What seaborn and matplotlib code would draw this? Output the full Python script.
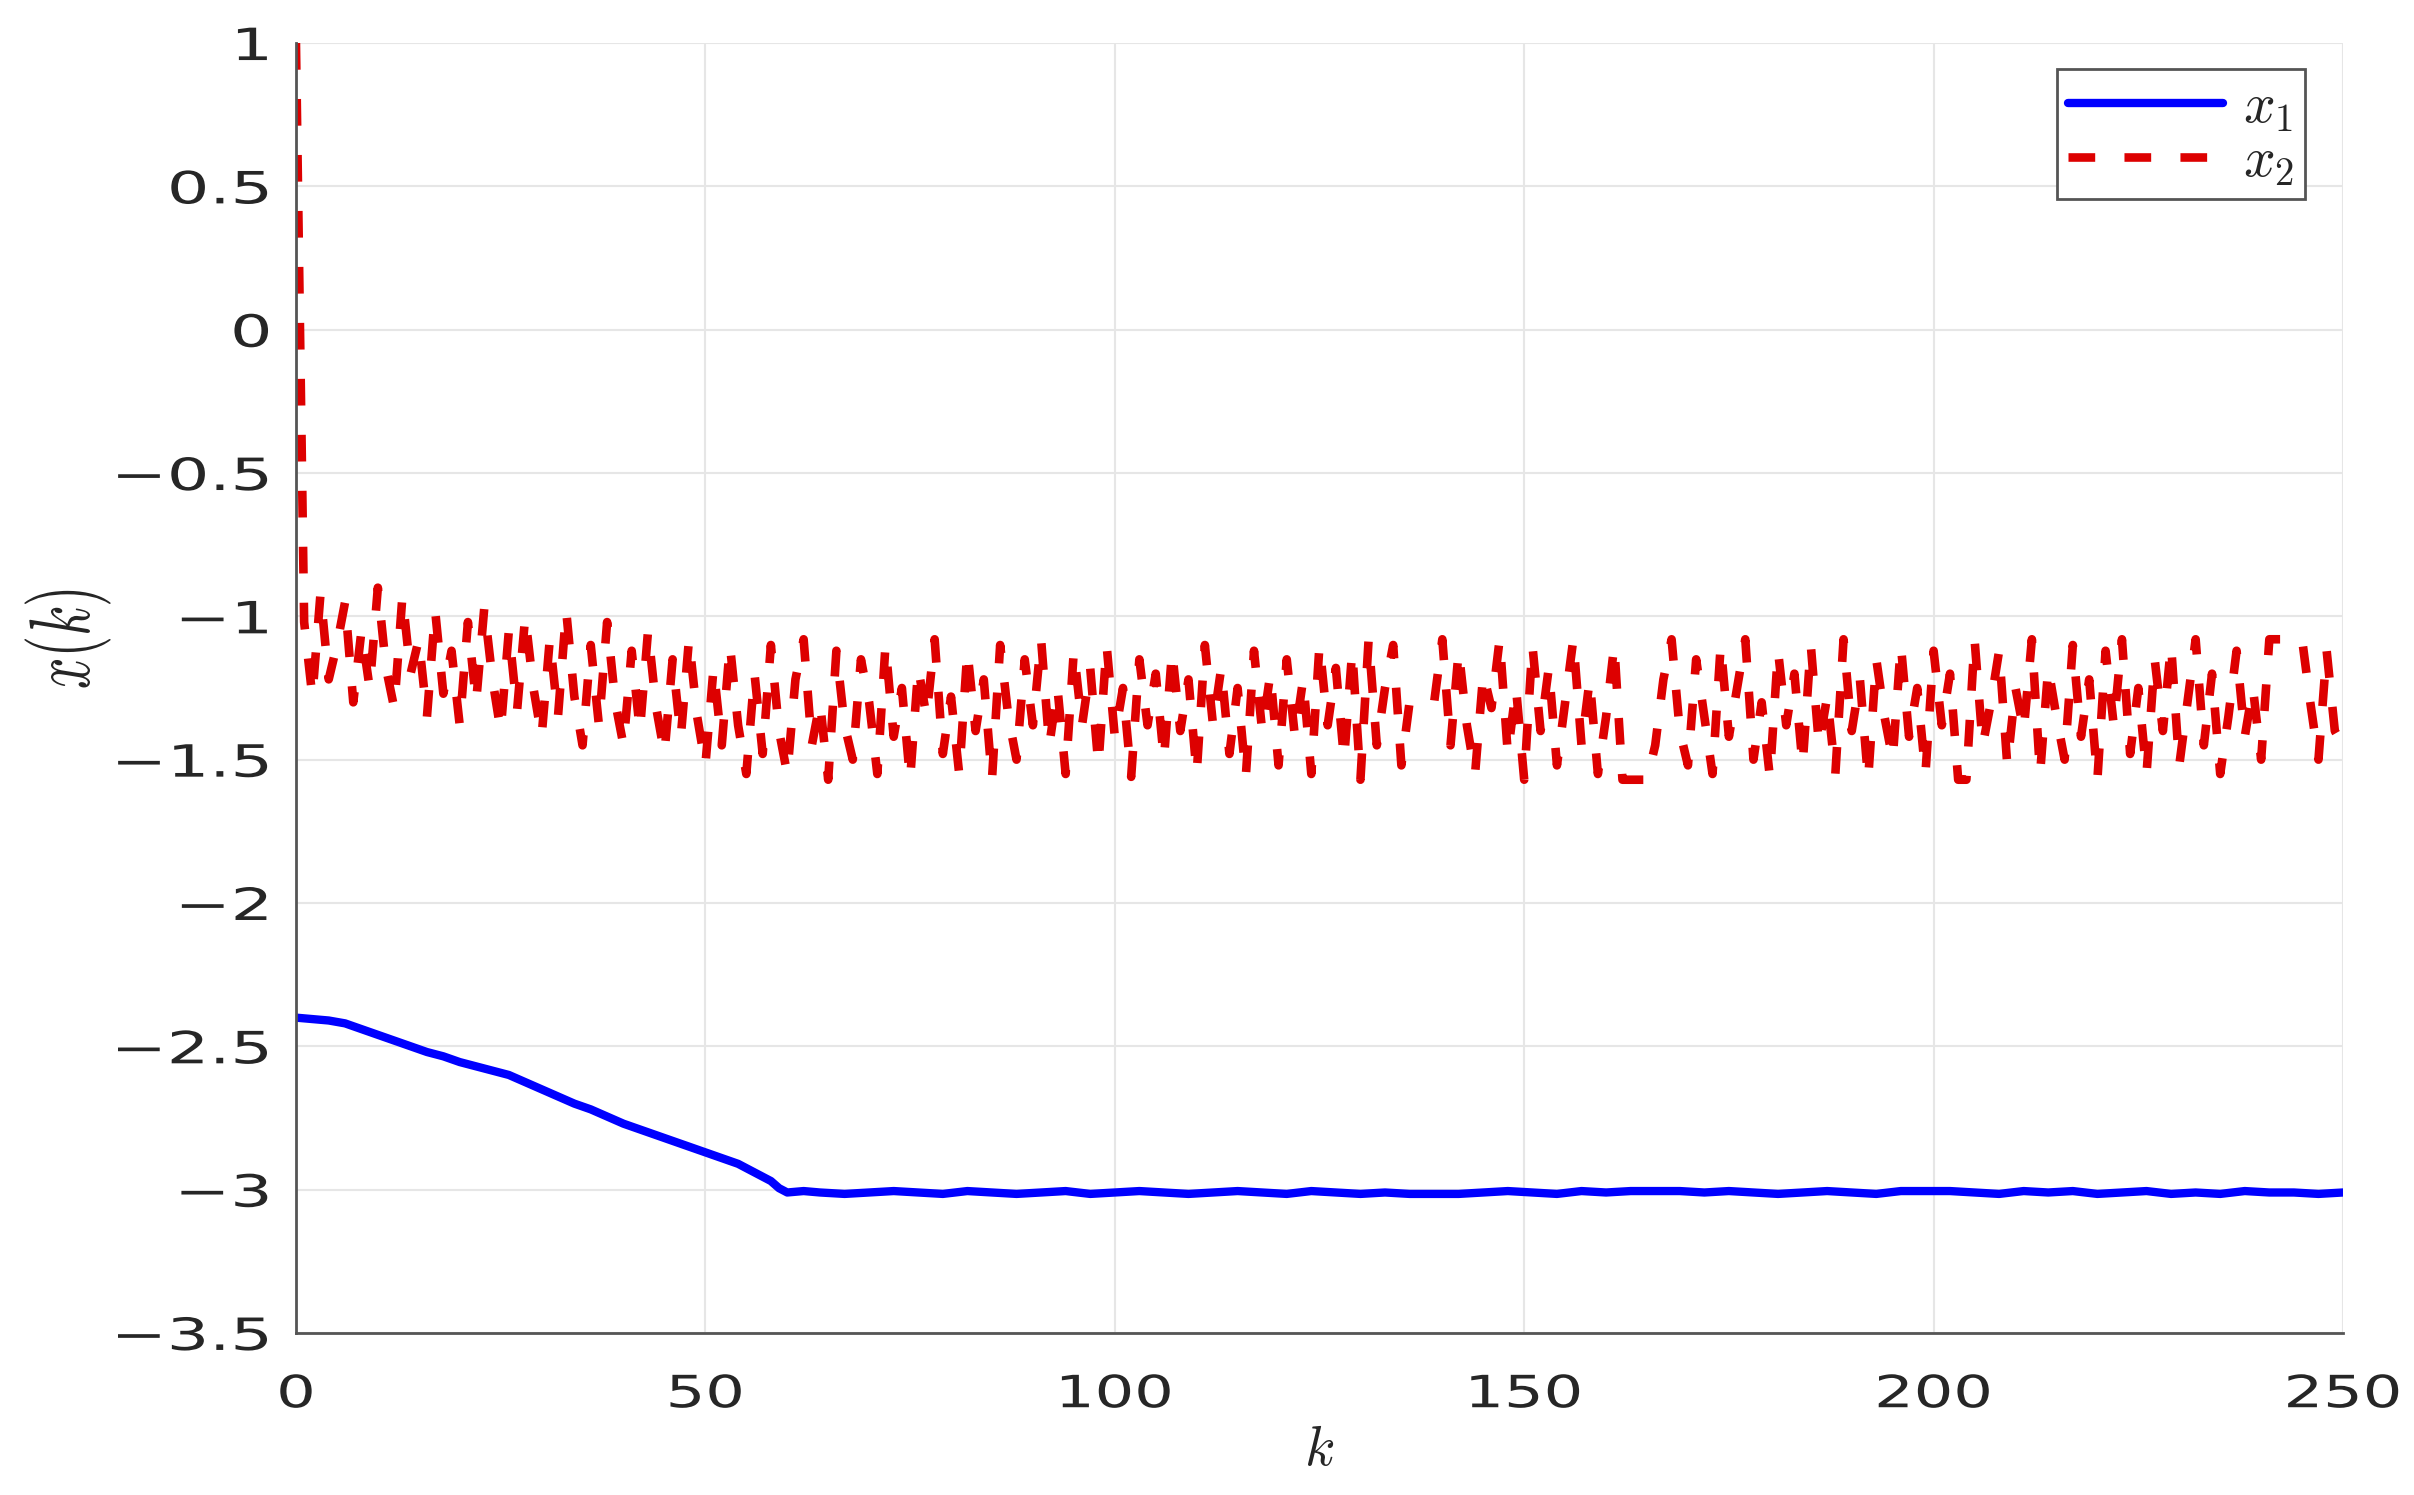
import matplotlib
matplotlib.use("Agg")
import matplotlib.pyplot as plt
import seaborn as sns
from matplotlib.patheffects import AbstractPathEffect
from matplotlib.transforms import Affine2D

# x1: smooth decline to about -3, then flat with tiny wiggles
k_x1 = [0, 2, 4, 6, 8, 10, 12, 14, 16, 18, 20, 22, 24, 26, 28, 30, 32, 34,
        36, 38, 40, 42, 44, 46, 48, 50, 52, 54, 56, 58, 59, 60, 62,
        64, 67, 70, 73, 76, 79, 82, 85, 88, 91, 94, 97, 100, 103, 106, 109,
        112, 115, 118, 121, 124, 127, 130, 133, 136, 139, 142, 145, 148, 151,
        154, 157, 160, 163, 166, 169, 172, 175, 178, 181, 184, 187, 190, 193,
        196, 199, 202, 205, 208, 211, 214, 217, 220, 223, 226, 229, 232, 235,
        238, 241, 244, 247, 250]
x1 = [-2.40, -2.405, -2.41, -2.42, -2.44, -2.46, -2.48, -2.50, -2.52, -2.535,
      -2.555, -2.57, -2.585, -2.60, -2.625, -2.65, -2.675, -2.70, -2.72, -2.745,
      -2.77, -2.79, -2.81, -2.83, -2.85, -2.87, -2.89, -2.91, -2.94, -2.97,
      -2.995, -3.01, -3.005,
      -3.01, -3.015, -3.01, -3.005, -3.01, -3.015, -3.005, -3.01, -3.015, -3.01,
      -3.005, -3.015, -3.01, -3.005, -3.01, -3.015, -3.01, -3.005, -3.01, -3.015,
      -3.005, -3.01, -3.015, -3.01, -3.015, -3.015, -3.015, -3.01, -3.005, -3.01,
      -3.015, -3.005, -3.01, -3.005, -3.005, -3.005, -3.01, -3.005, -3.01, -3.015,
      -3.01, -3.005, -3.01, -3.015, -3.005, -3.005, -3.005, -3.01, -3.015, -3.005,
      -3.01, -3.005, -3.015, -3.01, -3.005, -3.015, -3.01, -3.015, -3.005, -3.01,
      -3.01, -3.015, -3.01]

# x2: one value per step k = 0..250
x2 = [1.00,
      -1.02, -1.28, -0.92, -1.22, -1.10, -0.95, -1.30, -1.05, -1.25, -0.90,
      -1.18, -1.32, -0.93, -1.20, -1.08, -1.35, -0.98, -1.27, -1.12, -1.38,
      -1.02, -1.30, -0.97, -1.22, -1.40, -1.05, -1.33, -1.00, -1.25, -1.42,
      -1.08, -1.35, -0.98, -1.28, -1.45, -1.10, -1.38, -1.02, -1.30, -1.45,
      -1.12, -1.40, -1.05, -1.32, -1.48, -1.15, -1.42, -1.08, -1.35, -1.52,
      -1.18, -1.45, -1.10, -1.38, -1.55, -1.20, -1.48, -1.10, -1.40, -1.55,
      -1.22, -1.08, -1.45, -1.30, -1.57, -1.12, -1.38, -1.50, -1.15, -1.30,
      -1.55, -1.10, -1.42, -1.25, -1.57, -1.18, -1.35, -1.08, -1.48, -1.28,
      -1.55, -1.12, -1.40, -1.22, -1.57, -1.10, -1.35, -1.50, -1.15, -1.38,
      -1.08, -1.45, -1.25, -1.55, -1.12, -1.38, -1.18, -1.52, -1.10, -1.42,
      -1.25, -1.56, -1.15, -1.38, -1.20, -1.50, -1.12, -1.40, -1.22, -1.55,
      -1.10, -1.38, -1.18, -1.48, -1.25, -1.56, -1.12, -1.40, -1.20, -1.52,
      -1.15, -1.42, -1.22, -1.55, -1.10, -1.38, -1.18, -1.50, -1.12, -1.57,
      -1.08, -1.45, -1.25, -1.10, -1.52, -1.30, -1.30, -1.30, -1.30, -1.08,
      -1.45, -1.12, -1.38, -1.55, -1.20, -1.32, -1.08, -1.48, -1.25, -1.57,
      -1.10, -1.40, -1.18, -1.52, -1.30, -1.08, -1.45, -1.22, -1.55, -1.35,
      -1.10, -1.57, -1.57, -1.57, -1.57, -1.45, -1.22, -1.08, -1.40, -1.52,
      -1.15, -1.35, -1.55, -1.10, -1.42, -1.25, -1.08, -1.50, -1.30, -1.56,
      -1.12, -1.38, -1.20, -1.52, -1.10, -1.45, -1.28, -1.55, -1.08, -1.40,
      -1.22, -1.57, -1.15, -1.35, -1.50, -1.10, -1.42, -1.25, -1.55, -1.12,
      -1.38, -1.20, -1.57, -1.57, -1.08, -1.45, -1.30, -1.12, -1.52, -1.25,
      -1.40, -1.08, -1.55, -1.18, -1.35, -1.50, -1.10, -1.42, -1.22, -1.57,
      -1.12, -1.38, -1.08, -1.48, -1.25, -1.55, -1.15, -1.40, -1.10, -1.52,
      -1.30, -1.08, -1.45, -1.20, -1.55, -1.35, -1.12, -1.42, -1.25, -1.50,
      -1.08, -1.08, -1.08, -1.08, -1.08, -1.30, -1.50, -1.12, -1.40, -1.45]
k_x2 = list(range(len(x2)))

xticks = [0, 50, 100, 150, 200, 250]
xtick_labels = ["0", "50", "100", "150", "200", "250"]
yticks = [-3.5, -3, -2.5, -2, -1.5, -1, -0.5, 0, 0.5, 1]
ytick_labels = ["−3.5", "−3", "−2.5", "−2", "−1.5", "−1", "−0.5", "0", "0.5", "1"]


class Stretch(AbstractPathEffect):
    # widen text horizontally around an anchor (0 = left, 1 = right)
    def __init__(self, sx, anchor=0.5):
        super().__init__()
        self.sx = sx
        self.anchor = anchor

    def draw_path(self, renderer, gc, tpath, affine, rgbFace=None):
        ext = tpath.get_extents(affine)
        x0 = ext.x0 + self.anchor * ext.width
        t = affine + Affine2D().translate(-x0, 0).scale(self.sx, 1).translate(x0, 0)
        renderer.draw_path(gc, tpath, t, rgbFace)


sns.set_style("white")
plt.rcParams['font.family'] = ['DejaVu Sans']
plt.rcParams['mathtext.fontset'] = 'cm'

fig = plt.figure(figsize=(24.14, 14.95), dpi=100)
ax = fig.add_axes([0.1226, 0.1084, 0.848, 0.8628])

sns.lineplot(x=k_x1, y=x1, ax=ax, color='#0000ff', linewidth=6,
             label='$x_1$', sort=False)
sns.lineplot(x=k_x2, y=x2, ax=ax, color='#dd0000', linewidth=6.2,
             linestyle=(0, (3.1, 3.4)), label='$x_2$', sort=False)

ax.set_xlim(0, 250)
ax.set_ylim(-3.5, 1)
ax.set_xticks(xticks, labels=xtick_labels)
ax.set_yticks(yticks, labels=ytick_labels)

ax.grid(True, color='#e6e6e6', linewidth=1.5)
ax.set_axisbelow(True)
for side in ['top', 'right']:
    ax.spines[side].set_visible(False)
for side in ['left', 'bottom']:
    ax.spines[side].set_color('#555555')
    ax.spines[side].set_linewidth(2)

ax.tick_params(axis='y', direction='in', length=16, width=2, color='#555555',
               labelsize=32, labelcolor='#262626', pad=18)
ax.tick_params(axis='x', direction='in', length=10, width=2, color='#555555',
               labelsize=32, labelcolor='#262626', pad=29)
for lbl in ax.get_yticklabels():
    lbl.set_path_effects([Stretch(1.5, anchor=1.0)])
for lbl in ax.get_xticklabels():
    lbl.set_path_effects([Stretch(1.4, anchor=0.5)])

ax.set_xlabel('$k$', fontsize=40)
ax.xaxis.set_label_coords(0.5, -0.07)
ax.set_ylabel('$x(k)$', fontsize=40)
ax.yaxis.set_label_coords(-0.097, 0.538)
ax.yaxis.label.set_path_effects([Stretch(1.55, anchor=0.5)])

leg = ax.legend(loc='upper right', bbox_to_anchor=(0.9814, 0.9798),
                borderaxespad=0, fontsize=40, frameon=True, fancybox=False,
                edgecolor='#555555', framealpha=1, handlelength=2.8,
                handletextpad=0.35, borderpad=0.2, labelspacing=0.0)
leg.get_frame().set_linewidth(2)

fig.savefig("out.png", dpi=100)
plt.close(fig)
